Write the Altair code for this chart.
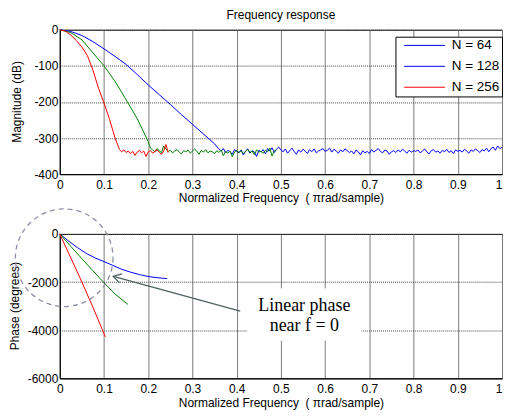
import altair as alt
import numpy as np
import pandas as pd

series_names = ["N = 64", "N = 128", "N = 256"]
line_colors = ["#0000ff", "#008000", "#ff0000"]
legend_keys = ["64", "128", "256"]
legend_colors = ["#0000ff", "#0000ff", "#ff0000"]

# ---------- magnitude (dB): transition band ----------
mag64_f = [0, 0.025, 0.05, 0.075, 0.1, 0.125, 0.15, 0.175, 0.2, 0.225, 0.25, 0.275, 0.3, 0.325, 0.35, 0.358]
mag64_db = [0, -5, -16, -33, -53, -74, -96, -124, -153, -180, -207, -235, -262, -289, -316, -328]
mag128_f = [0, 0.025, 0.05, 0.075, 0.1, 0.125, 0.15, 0.175, 0.2, 0.205]
mag128_db = [0, -8, -28, -64, -100, -143, -194, -246, -310, -328]
mag256_f = [0, 0.0125, 0.025, 0.0375, 0.05, 0.0625, 0.075, 0.0875, 0.1, 0.1125, 0.125, 0.135]
mag256_db = [0, -4, -15, -30, -48, -72, -112, -162, -203, -248, -300, -332]

# noise floor (read by eye, step 0.005)
noise64_start, noise64_end = 0.36, 1.0
noise64_db = [
    -331, -336, -329, -341, -334, -338, -345, -332, -337,
    -340, -333, -347, -336, -330, -342, -335, -339, -351, -334,
    -338, -332, -344, -329, -336, -327, -340, -331, -325, -333,
    -338, -330, -342, -335, -328, -337, -345, -333, -339, -331,
    -336, -343, -332, -338, -330, -341, -336, -333, -329, -337,
    -334, -328, -339, -331, -336, -342, -333, -338, -330, -335,
    -340, -336, -344, -333, -338, -347, -335, -341, -337, -343,
    -332, -339, -334, -329, -337, -341, -333, -336, -345, -338,
    -335, -340, -333, -338, -331, -336, -342, -334, -339, -335,
    -337, -333, -341, -336, -330, -338, -344, -335, -332, -339,
    -336, -342, -334, -338, -331, -340, -335, -343, -333, -337,
    -334, -339, -331, -336, -342, -333, -337, -330, -335, -340,
    -332, -336, -328, -338, -330, -325, -334, -322, -329, -326,
]
noise128_start, noise128_end = 0.21, 0.49
noise128_db = [
    -333, -338, -329, -336, -340, -322, -331, -337, -334, -341,
    -336, -332, -339, -344, -335, -338, -333, -342, -336, -330,
    -337, -345, -334, -339, -332, -341, -336, -338, -343, -335,
    -340, -333, -349, -337, -342, -336, -352, -339, -334, -341,
    -335, -344, -338, -331, -340, -336, -346, -333, -339, -337,
    -342, -334, -338, -328, -350, -336, -332,
]
noise256_start, noise256_end = 0.14, 0.245
noise256_db = [
    -338, -333, -340, -336, -343, -337, -348, -339, -334, -341, -336,
    -351, -338, -335, -342, -337, -333, -340, -345, -336, -318, -340,
]

# ---------- phase (degrees) ----------
ph64_f = [0, 0.02, 0.04, 0.06, 0.08, 0.1, 0.12, 0.14, 0.16, 0.18, 0.2, 0.22, 0.243]
ph64_deg = [0, -300, -570, -810, -1000, -1150, -1310, -1470, -1590, -1690, -1770, -1820, -1860]
ph128_f = [0, 0.025, 0.05, 0.075, 0.1, 0.125, 0.154]
ph128_deg = [0, -520, -1030, -1530, -2030, -2500, -2930]
ph256_f = [0, 0.025, 0.05, 0.075, 0.1, 0.103]
ph256_deg = [0, -1000, -2000, -3050, -4150, -4280]

x_ticks = [0, 0.1, 0.2, 0.3, 0.4, 0.5, 0.6, 0.7, 0.8, 0.9, 1]
mag_ticks = [0, -100, -200, -300, -400]
ph_ticks = [0, -2000, -4000, -6000]

# annotation (bottom panel, data coordinates)
circle_f, circle_deg = [0.01], [-990]
arrow_tail = (0.408, -3205)
arrow_tip = (0.121, -1767)
note_box = (0.424, 0.682, -2260, -4438)
note_lines = ["Linear phase", "near f = 0"]
note_f = [0.553, 0.553]
note_deg = [-3000, -3822]


def grid(start, end):
    n = int(round((end - start) / 0.005)) + 1
    return list(np.round(start + 0.005 * np.arange(n), 4))


rows = []
for name, f, v, ns, ne, nv in [
    ("N = 64", mag64_f, mag64_db, noise64_start, noise64_end, noise64_db),
    ("N = 128", mag128_f, mag128_db, noise128_start, noise128_end, noise128_db),
    ("N = 256", mag256_f, mag256_db, noise256_start, noise256_end, noise256_db),
]:
    ff = list(f) + grid(ns, ne)
    vv = list(v) + list(nv)
    for a, b in zip(ff, vv):
        rows.append({"f": a, "val": b, "series": name})
mag_df = pd.DataFrame(rows)

rows = []
for name, f, v in [("N = 64", ph64_f, ph64_deg), ("N = 128", ph128_f, ph128_deg), ("N = 256", ph256_f, ph256_deg)]:
    for a, b in zip(f, v):
        rows.append({"f": a, "val": b, "series": name})
ph_df = pd.DataFrame(rows)

xtitle = "Normalized Frequency\u00a0\u00a0(\u00a0\u03c0rad/sample)"
FONT = "Liberation Sans"


def xenc(lp=5, tp=2):
    return alt.X("f:Q", scale=alt.Scale(domain=[0, 1], nice=False, zero=False),
                 axis=alt.Axis(values=x_ticks, format=".1~f", title=xtitle,
                               labelAlign={"condition": {"test": "datum.value == 1", "value": "right"},
                                           "value": "center"},
                               labelPadding=lp, titlePadding=tp,
                               gridColor="#7a7a7a"))


def yenc(dom, ticks, title, tx, ty):
    return alt.Y("val:Q", scale=alt.Scale(domain=dom, nice=False, zero=False),
                 axis=alt.Axis(values=ticks, title=title,
                               labelExpr="datum.value == 0 ? '0' : '-' + format(-datum.value, 'd')",
                               gridColor="#444444", gridDash=[1, 1],
                               titleX=tx, titleY=ty, titleBaseline="middle", titleAngle=270))


color = alt.Color("series:N", scale=alt.Scale(domain=series_names, range=line_colors), legend=None)

W = 444
top_y = lambda: yenc([-400, 0], mag_ticks, "Magnitude (dB)", -43, 72)
top_lines = alt.Chart(mag_df).mark_line(strokeWidth=1).encode(
    x=xenc(), y=top_y(), color=color, order="f:Q")

legend_df = pd.DataFrame({"f": [0, 0, 0], "val": [0, 0, 0], "key": legend_keys})
top_legend = alt.Chart(legend_df).mark_line(strokeWidth=1).encode(
    x=xenc(), y=top_y(),
    stroke=alt.Stroke("key:N", scale=alt.Scale(domain=legend_keys, range=legend_colors),
                      legend=alt.Legend(title=None, orient="none", legendX=337, legendY=7,
                                        labelExpr="'N = ' + datum.label",
                                        symbolType="M0,0H8", symbolSize=105, symbolStrokeWidth=1,
                                        rowPadding=6, padding=2, labelOffset=41,
                                        labelFontSize=13.5, labelFont=FONT, labelColor="black",
                                        strokeColor="black", fillColor="white")))

top = alt.layer(top_lines, top_legend).properties(
    width=W, height=145,
    title=alt.TitleParams("Frequency response", fontSize=12, fontWeight="normal", font=FONT,
                          color="black", offset=2, anchor="middle"))

ph_y = lambda: yenc([-6000, 0], ph_ticks, "Phase (degrees)", -45, 72)
bx = lambda: xenc(5, 3)

bot_lines = alt.Chart(ph_df).mark_line(strokeWidth=1).encode(x=bx(), y=ph_y(), color=color, order="f:Q")

box_df = pd.DataFrame({"f": [note_box[0]], "f2": [note_box[1]], "val": [note_box[2]], "val2": [note_box[3]]})
box = alt.Chart(box_df).mark_rect(color="white").encode(x=bx(), x2="f2:Q", y=ph_y(), y2="val2:Q")

note_df = pd.DataFrame({"f": note_f, "val": note_deg, "t": note_lines})
note = alt.Chart(note_df).mark_text(font="Liberation Serif", fontSize=18, color="black",
                                    align="center", baseline="middle").encode(x=bx(), y=ph_y(), text="t:N")

circ_df = pd.DataFrame({"f": circle_f, "val": circle_deg})
circ = alt.Chart(circ_df).mark_point(shape="circle", size=9604, filled=False, color="#8a8fa6",
                                     strokeDash=[5, 4], strokeWidth=1.3, opacity=1).encode(x=bx(), y=ph_y())

arr_df = pd.DataFrame({"f": [arrow_tail[0]], "val": [arrow_tail[1]],
                       "f2": [arrow_tip[0]], "val2": [arrow_tip[1]]})
shaft = alt.Chart(arr_df).mark_rule(color="#4f6060", strokeWidth=1.3).encode(
    x=bx(), y=ph_y(), x2="f2:Q", y2="val2:Q")
head_df = pd.DataFrame({"f": [arrow_tip[0]], "val": [arrow_tip[1]]})
head = alt.Chart(head_df).mark_point(shape="M1,-0.6L0,0L1,0.6", size=237, angle=15, filled=False,
                                     color="#4f6060", strokeWidth=1.3, opacity=1).encode(x=bx(), y=ph_y())

bottom = alt.layer(bot_lines, box, note, circ, shaft, head).properties(width=W, height=145)

chart = alt.vconcat(top, bottom, spacing=60, bounds="flush").resolve_scale(
    color="independent", stroke="independent"
).resolve_legend(
    color="independent", stroke="independent"
).properties(padding={"top": -1, "left": 0, "right": 0, "bottom": 0}).configure_view(
    stroke="black", strokeWidth=1
).configure_axis(
    labelFont=FONT, titleFont=FONT, labelFontSize=12, titleFontSize=12,
    labelColor="black", titleColor="black", titleFontWeight="normal",
    domainColor="black", ticks=False, grid=True, gridOpacity=1, gridWidth=1
)

chart.save("out.html", embed_options={"renderer": "svg", "actions": False})
